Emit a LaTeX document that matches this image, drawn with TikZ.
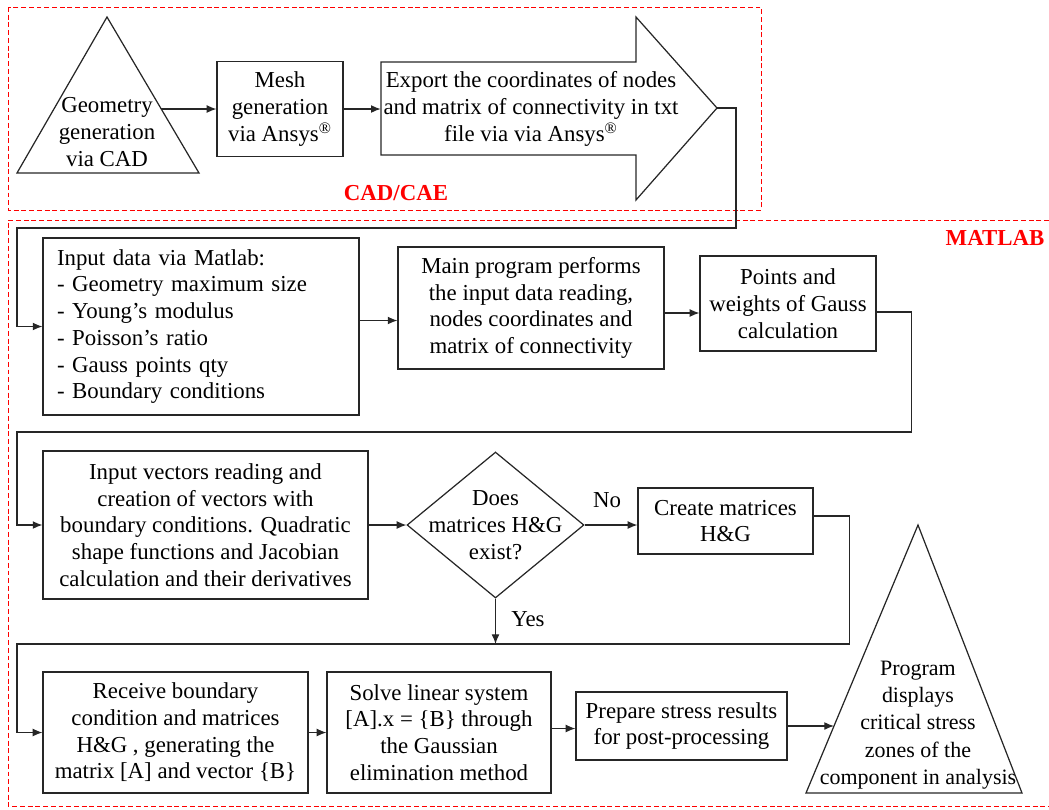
\documentclass[tikz,border=0pt]{standalone}
\usepackage{fontspec}
\setmainfont{Liberation Serif}
\usetikzlibrary{arrows.meta,shapes.geometric}
\begin{document}
\begin{tikzpicture}[x=0.02cm, y=0.02cm, every node/.style={font=\fontsize{13}{15.2}\selectfont, inner sep=1pt, align=center}]
\tikzstyle{blk}=[draw=black!85, line width=0.7pt, inner sep=2pt]
\tikzstyle{shp}=[draw=black!85, line width=0.7pt]
\tikzstyle{lnk}=[draw=black!85, line width=0.7pt, -{Latex[length=5.5pt,width=4.5pt]}]
\tikzstyle{zone}=[red, line width=0.5pt, dash pattern=on 2.8pt off 1.6pt]
\tikzstyle{zonelbl}=[red, font=\fontsize{13}{15}\selectfont\bfseries]
\useasboundingbox (0,0) rectangle (1049,-809);
\draw [zone] (8,-7) rectangle (761,-210);
\draw [zone] (1049,-220) -- (8,-220) -- (8,-806) -- (1049,-806);
\node [zonelbl] (cadlbl) at (396,-193) {CAD/CAE};
\node [zonelbl] (matlbl) at (995,-238) {MATLAB};
\draw [shp] (107,-17) -- (199,-173) -- (17,-173) -- cycle;
\node (geo) at (107,-132) {Geometry\\generation\\via CAD};
\coordinate (geoR) at (161,-109);
\node [blk, minimum width=2.52cm, minimum height=1.9cm] (mesh) at (280,-109) {Mesh\\generation\\via Ansys\textsuperscript{®}};
\draw [shp] (381,-62) -- (636,-62) -- (636,-17) -- (717,-108) -- (636,-200) -- (636,-155) -- (381,-155) -- cycle;
\node [minimum width=6cm, minimum height=1.86cm] (export) at (531,-109) {Export the coordinates of nodes\\and matrix of connectivity in txt\\file via via Ansys\textsuperscript{®}};
\coordinate (expTip) at (717,-108);
\node [blk, align=left, text width=5.76cm, inner xsep=0.28cm, minimum height=3.54cm] (input) at (201,-326.5) {Input data via Matlab:\\- Geometry maximum size\\- Young’s modulus\\- Poisson’s ratio\\- Gauss points qty\\- Boundary conditions};
\node [blk, minimum width=5.32cm, minimum height=2.44cm] (main) at (531,-308) {Main program performs\\the input data reading,\\nodes coordinates and\\matrix of connectivity};
\node [blk, minimum width=3.52cm, minimum height=1.9cm] (points) at (788,-303.5) {Points and\\weights of Gauss\\calculation};
\node [blk, minimum width=6.5cm, minimum height=2.96cm] (vec) at (205.5,-525) {Input vectors reading and\\creation of vectors with\\boundary conditions. Quadratic\\shape functions and Jacobian\\calculation and their derivatives};
\node [diamond, shp, minimum width=3.54cm, minimum height=2.92cm, inner sep=0pt] (dec) at (495.5,-525) {};
\node (decT) at (dec) {Does\\matrices H\&G\\exist?};
\node [blk, minimum width=3.5cm, minimum height=1.32cm] (create) at (725.5,-521) {Create matrices\\H\&G};
\node (no) at (607,-500) {No};
\node (yes) at (528,-619) {Yes};
\node [blk, minimum width=5.3cm, minimum height=2.42cm] (recv) at (175.5,-732.5) {Receive boundary\\condition and matrices\\H\&G , generating the\\matrix [A] and vector \{B\}};
\node [blk, minimum width=4.48cm, minimum height=2.42cm] (solve) at (439,-732.5) {Solve linear system\\{}[A].x = \{B\} through\\the Gaussian\\elimination method};
\node [blk, minimum width=4.22cm, minimum height=1.36cm] (prep) at (681.5,-726) {Prepare stress results\\for post-processing};
\draw [shp] (918,-525) -- (1022,-793) -- (806,-793) -- cycle;
\node [font=\fontsize{12.5}{15.6}\selectfont] (prog) at (918,-725) {Program\\displays\\critical stress\\zones of the\\component in analysis};
\coordinate (progL) at (834,-726);
\draw [lnk] (geoR) -- (geoR -| mesh.west);
\draw [lnk] (mesh.east) -- (export.west);
\draw [lnk] (expTip) -- ++(19,0) |- (17,-228) |- (input.west);
\draw [lnk] ([yshift=0.12cm]input.east) -- ([yshift=0.12cm]input.east -| main.west);
\draw [lnk] ([yshift=-0.1cm]main.east) -- ([yshift=-0.1cm]main.east -| points.west);
\draw [lnk] ([yshift=-0.17cm]points.east) -- ++(35,0) |- (17,-432) |- (vec.west);
\draw [lnk] (vec.east) -- (dec.west);
\draw [lnk] (dec.east) -- (dec.east -| create.west);
\draw [lnk] ([yshift=0.1cm]create.east) -- ++(36,0) |- (17,-644) |- (recv.west);
\draw [lnk] (dec.south) -- (dec.south |- 0,-644);
\draw [lnk] (recv.east) -- (solve.west);
\draw [lnk] ([yshift=0.08cm]solve.east) -- ([yshift=0.08cm]solve.east -| prep.west);
\draw [lnk] (prep.east) -- (progL);
\end{tikzpicture}
\end{document}
